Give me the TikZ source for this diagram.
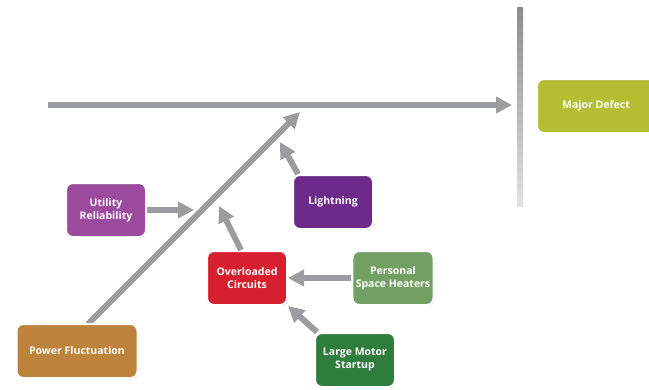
\documentclass[tikz,border=0pt]{standalone}
\usepackage{fontspec}
\setmainfont{Open Sans}
\usetikzlibrary{arrows.meta}
\usetikzlibrary{shadows}

\definecolor{majorc}{HTML}{B5BD33}
\definecolor{utilc}{HTML}{9B4A9E}
\definecolor{lightc}{HTML}{6E2A8A}
\definecolor{overc}{HTML}{D62030}
\definecolor{heatc}{HTML}{72A062}
\definecolor{motorc}{HTML}{2E7D3C}
\definecolor{powerc}{HTML}{BE833A}
\definecolor{bonec}{HTML}{9A9CA0}

\begin{document}
\begin{tikzpicture}[x=1pt,y=-1pt,
    cause/.style={rounded corners=7pt,draw=white,line width=2pt,text=white,
      font=\fontsize{10.5}{13}\selectfont\bfseries,align=center,
      minimum width=80pt,minimum height=54pt,
      drop shadow={shadow xshift=0.8pt,shadow yshift=-0.8pt,fill=black!45,opacity=0.6}},
    bone/.style={draw=bonec,line width=6pt,-{Triangle[width=16pt,length=16pt]}}]
    \useasboundingbox (0,0) rectangle (649,389);
    % head and spine
    \shade[top color=bonec!90!black,bottom color=bonec!30] (517,7) rectangle (523,206);
    \coordinate (tail) at (48,105);
    \coordinate (head) at (512,105);
    \coordinate (tip) at (300,112);
    \coordinate (root) at (88,324);
    \draw[bone] (tail) -- (head);
    \draw[bone] (root) -- (tip);
    % causes
    \node[cause,fill=majorc,minimum width=118pt] (md) at (596,106) {Major Defect};
    \node[cause,fill=utilc] (ur) at (106,210) {Utility\\Reliability};
    \node[cause,fill=lightc] (ln) at (333,202) {Lightning};
    \node[cause,fill=overc] (oc) at (247,278) {Overloaded\\Circuits};
    \node[cause,fill=heatc] (psh) at (393,278) {Personal\\Space Heaters};
    \node[cause,fill=motorc] (lms) at (355,360) {Large Motor\\Startup};
    \node[cause,fill=powerc,minimum width=121pt] (pf) at (77,351) {Power Fluctuation};
    % arrows
    \coordinate (urtip) at (194,210);
    \coordinate (lntip) at (280,142);
    \coordinate (octip) at (219,206);
    \draw[bone] (ur) -- (urtip);
    \draw[bone] (ln.north west)++(6,0) -- (lntip);
    \draw[bone] ([xshift=-6pt]oc.north) -- (octip);
    \draw[bone] (psh) -- (oc);
    \draw[bone] ([xshift=-38pt]lms.north) -- (oc.south east);
\end{tikzpicture}
\end{document}
